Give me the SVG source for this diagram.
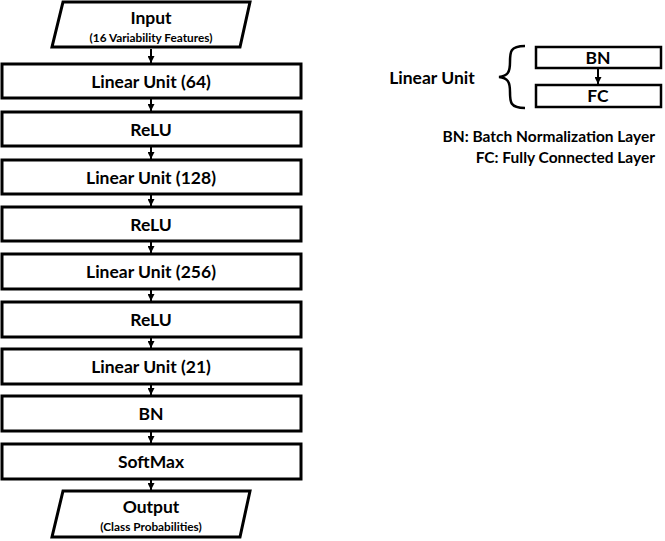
<svg xmlns="http://www.w3.org/2000/svg" width="665" height="541" viewBox="0 0 665 541">
<style>
.box{fill:#fff;stroke:#000;stroke-width:3}
.sbox{fill:#fff;stroke:#000;stroke-width:2.5}
.t{font-family:Lato,"Liberation Sans",sans-serif;font-weight:bold;font-size:17.5px;text-anchor:middle;fill:#000}
.s{font-family:Lato,"Liberation Sans",sans-serif;font-weight:bold;font-size:11.8px;text-anchor:middle;fill:#000}
.l{font-family:Lato,"Liberation Sans",sans-serif;font-weight:bold;font-size:15.5px;text-anchor:end;fill:#000}
.c{stroke:#000;stroke-width:2;fill:none}
</style>
<defs>
<marker id="ah" viewBox="0 0 10 10" refX="10" refY="5" markerWidth="3.5" markerHeight="3.5" orient="auto" markerUnits="strokeWidth">
<path d="M0,0 L10,5 L0,10 z" fill="#000"/>
</marker>
</defs>
<g id="connectors">
<line class="c" x1="151" y1="49" x2="151" y2="63" marker-end="url(#ah)"/>
<line class="c" x1="151" y1="99" x2="151" y2="111" marker-end="url(#ah)"/>
<line class="c" x1="151" y1="147" x2="151" y2="159" marker-end="url(#ah)"/>
<line class="c" x1="151" y1="195" x2="151" y2="206" marker-end="url(#ah)"/>
<line class="c" x1="151" y1="242" x2="151" y2="253" marker-end="url(#ah)"/>
<line class="c" x1="151" y1="290" x2="151" y2="301" marker-end="url(#ah)"/>
<line class="c" x1="151" y1="338" x2="151" y2="348" marker-end="url(#ah)"/>
<line class="c" x1="151" y1="385" x2="151" y2="395" marker-end="url(#ah)"/>
<line class="c" x1="151" y1="432" x2="151" y2="443" marker-end="url(#ah)"/>
<line class="c" x1="151" y1="480" x2="151" y2="490" marker-end="url(#ah)"/>
<line class="c" x1="598" y1="68" x2="598" y2="84" marker-end="url(#ah)"/>
</g>
<g id="input">
<polygon class="box" points="63,2 250,2 240,47 52,47"/>
<text class="t" x="151" y="24">Input</text>
<text class="s" x="151" y="42">(16 Variability Features)</text>
</g>
<g id="lin64"><rect class="box" x="2" y="64" width="299" height="34"/><text class="t" x="151" y="88">Linear Unit (64)</text></g>
<g id="relu1"><rect class="box" x="2" y="112" width="299" height="34"/><text class="t" x="151" y="136">ReLU</text></g>
<g id="lin128"><rect class="box" x="2" y="160" width="299" height="34"/><text class="t" x="151" y="184">Linear Unit (128)</text></g>
<g id="relu2"><rect class="box" x="2" y="207" width="299" height="34"/><text class="t" x="151" y="231">ReLU</text></g>
<g id="lin256"><rect class="box" x="2" y="254" width="299" height="35"/><text class="t" x="151" y="278">Linear Unit (256)</text></g>
<g id="relu3"><rect class="box" x="2" y="302" width="299" height="35"/><text class="t" x="151" y="326">ReLU</text></g>
<g id="lin21"><rect class="box" x="2" y="349" width="299" height="35"/><text class="t" x="151" y="373">Linear Unit (21)</text></g>
<g id="bn"><rect class="box" x="2" y="396" width="299" height="35"/><text class="t" x="151" y="420">BN</text></g>
<g id="softmax"><rect class="box" x="2" y="444" width="299" height="35"/><text class="t" x="151" y="468">SoftMax</text></g>
<g id="output">
<polygon class="box" points="63,491 250,491 240,537 52,537"/>
<text class="t" x="151" y="513">Output</text>
<text class="s" x="151" y="531">(Class Probabilities)</text>
</g>
<g id="legend">
<text class="t" x="432" y="84">Linear Unit</text>
<path d="M525,46 C510,46 510,52 510,62 C510,72 508,76 499,77 C508,78 510,82 510,92 C510,102 510,108 525,108" fill="none" stroke="#000" stroke-width="2.5"/>
<g id="legend-bn"><rect class="sbox" x="536" y="47" width="125" height="21"/><text class="t" x="598" y="64">BN</text></g>
<g id="legend-fc"><rect class="sbox" x="536" y="85" width="125" height="22"/><text class="t" x="598" y="102">FC</text></g>
<text class="l" x="655" y="142">BN: Batch Normalization Layer</text>
<text class="l" x="655" y="163">FC: Fully Connected Layer</text>
</g>
</svg>
